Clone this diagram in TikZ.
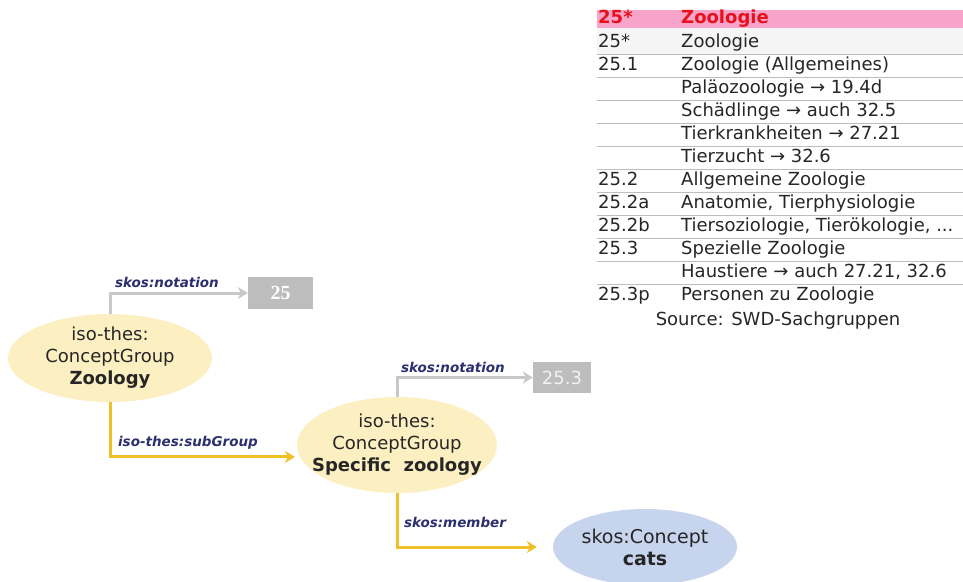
\documentclass[tikz,border=0pt]{standalone}
\usepackage{fontspec}
\setmainfont{DejaVu Sans}
\newfontfamily\boxserif{Liberation Serif}
\usetikzlibrary{shapes.geometric,arrows.meta}
\definecolor{pinkband}{HTML}{F8A4CA}
\definecolor{redtxt}{HTML}{E8101A}
\definecolor{rowline}{HTML}{BDBDBD}
\definecolor{yellowfill}{HTML}{FCEFC2}
\definecolor{bluefill}{HTML}{C6D4EE}
\definecolor{goldline}{HTML}{F0C028}
\definecolor{grayline}{HTML}{C8C8C8}
\definecolor{navy}{HTML}{2A2F6E}
\definecolor{boxgray}{HTML}{BDBDBD}
\tikzset{
  tabtxt/.style={anchor=west,inner sep=0pt,text height=13pt,text depth=3.5pt,font=\fontsize{18}{21}\selectfont,text=black!85},
  concept/.style={ellipse,inner sep=0pt},
  ctext/.style={inner sep=0pt,align=center,font=\fontsize{18}{22}\selectfont,text=black!85},
  yellowell/.style={concept,fill=yellowfill},
  blueell/.style={concept,fill=bluefill},
  goldarrow/.style={draw=goldline,line width=3pt,-{Stealth[length=10pt,width=12pt,inset=3pt]}},
  grayarrow/.style={draw=grayline,line width=3pt,-{Stealth[length=10pt,width=12pt,inset=3pt]}},
  rellabel/.style={inner sep=0pt,text=navy,font=\fontsize{13.5}{15}\selectfont\bfseries\itshape},
  valbox/.style={fill=boxgray,inner sep=0pt,text=white},
}
\begin{document}
\begin{tikzpicture}[x=1pt,y=-1pt]
\useasboundingbox (0,0) rectangle (963,581);
% table
\fill[pinkband] (597,10) rectangle (963,28);
\fill[black!4] (597,28) rectangle (963,54.5);
\node[tabtxt,text=redtxt,font=\fontsize{18}{21}\selectfont\bfseries] (hn) at (598,19) {25*};
\node[tabtxt,text=redtxt,font=\fontsize{18}{21}\selectfont\bfseries] (ht) at (681,19) {Zoologie};
\foreach \num/\txt [count=\i] in {
  25*/Zoologie,
  25.1/Zoologie (Allgemeines),
  {}/Paläozoologie → 19.4d,
  {}/Schädlinge → auch 32.5,
  {}/Tierkrankheiten → 27.21,
  {}/Tierzucht → 32.6,
  25.2/Allgemeine Zoologie,
  25.2a/{Anatomie, Tierphysiologie},
  25.2b/{Tiersoziologie, Tierökologie, ...},
  25.3/Spezielle Zoologie,
  {}/{Haustiere → auch 27.21, 32.6},
  25.3p/Personen zu Zoologie}{
  \pgfmathsetmacro\yy{43+23*(\i-1)}
  \node[tabtxt] (n\i) at (598,\yy) {\num};
  \node[tabtxt] (t\i) at (681,\yy) {\txt};
  \ifnum\i<12
    \draw[rowline,line width=1.5pt] (597,\yy+11.5) -- (963,\yy+11.5);
  \fi
}
\node[inner sep=0pt,font=\fontsize{18}{21}\selectfont,text=black!85] (src) at (778,321) {Source: SWD-Sachgruppen};
% concepts
\node[yellowell,minimum width=204pt,minimum height=88pt] (z) at (110,358) {};
\node[ctext] (zt) at (z) {iso-thes:\\ConceptGroup\\\textbf{Zoology}};
\node[yellowell,minimum width=200pt,minimum height=96pt] (sz) at (397,445) {};
\node[ctext] (szt) at (sz) {iso-thes:\\ConceptGroup\\\textbf{Specific\ \ zoology}};
\node[blueell,minimum width=184pt,minimum height=76pt] (cats) at (645,547) {};
\node[ctext,font=\fontsize{19}{22}\selectfont] (catst) at (cats) {skos:Concept\\\textbf{cats}};
% value boxes
\node[valbox,minimum width=65pt,minimum height=32pt,font=\boxserif\fontsize{20}{20}\selectfont\bfseries] (b25) at (280.5,293) {25};
\node[valbox,minimum width=58pt,minimum height=31pt,font=\fontsize{18}{20}\selectfont,text=white!95!black] (b253) at (562,377.5) {25.3};
% connectors
\draw[grayarrow] (z.north) |- (b25.west);
\draw[grayarrow] (sz.north) |- (b253.west);
\draw[goldarrow,shorten >=5pt] (z.south) |- (sz.187);
\draw[goldarrow,shorten >=16pt] (sz.south) |- (cats.west);
% labels
\node[rellabel] (l1) at (167,282) {skos:notation};
\node[rellabel] (l2) at (453,367) {skos:notation};
\node[rellabel] (l3) at (188,443) {iso-thes:subGroup};
\node[rellabel] (l4) at (455,522) {skos:member};
\end{tikzpicture}
\end{document}
